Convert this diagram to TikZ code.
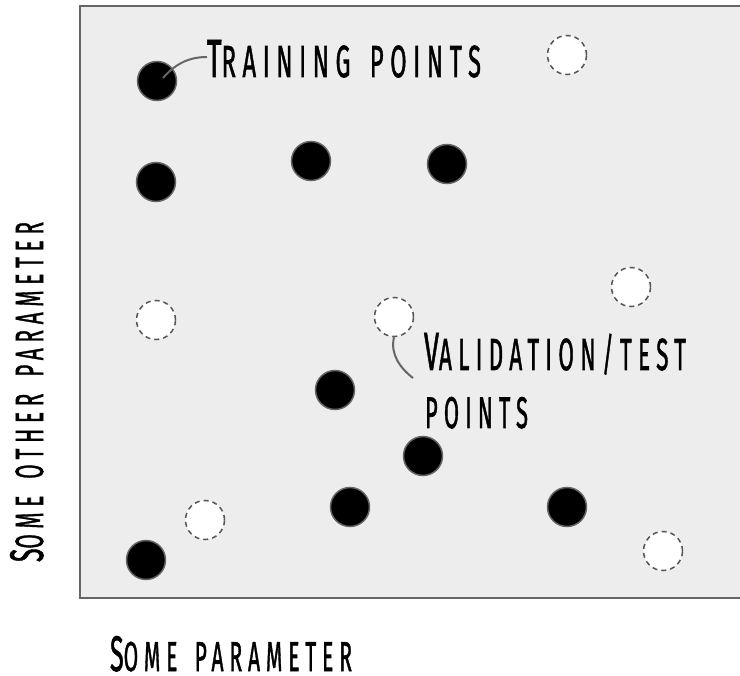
\documentclass[tikz,border=0pt]{standalone}
\usepackage{fontspec}
\usepackage{graphicx}
\usetikzlibrary{calc}
\newfontfamily\handfont[LetterSpace=28, WordSpace=1.5, FakeBold=1.6]{Fira Sans}
\definecolor{panel}{HTML}{EDEDED}
\definecolor{edge}{HTML}{666666}
\definecolor{dashedge}{HTML}{555555}
% small-caps style label squeezed into a given box: width, cap height, capital, rest
\newcommand{\capslabel}[4]{%
  \resizebox{#1}{#2}{\handfont\fontsize{40}{40}\selectfont #3\fontsize{33.5}{33.5}\selectfont #4}}
\tikzset{
  trainpt/.style={circle, minimum size=39pt, inner sep=0pt, fill=black, draw=edge, line width=1.5pt},
  testpt/.style={circle, minimum size=39pt, inner sep=0pt, fill=white, draw=dashedge, line width=1.5pt, dash pattern=on 5pt off 4pt},
  pointer/.style={draw=edge, line width=2pt},
  caption/.style={inner sep=0pt, outer sep=0pt}
}
\begin{document}
\begin{tikzpicture}[x=1pt, y=-1pt]
  \useasboundingbox (0,0) rectangle (740,676);
  \begin{scope}
    \clip (0,0) rectangle (740,676);
    \draw[fill=panel, draw=edge, line width=2pt] (80,6) rectangle (760,598);
  \end{scope}

  % training points
  \node[trainpt] (t1) at (157,81) {};
  \node[trainpt] (t2) at (156,182) {};
  \node[trainpt] (t3) at (311,161) {};
  \node[trainpt] (t4) at (447,164) {};
  \node[trainpt] (t5) at (335,390) {};
  \node[trainpt] (t6) at (423,456) {};
  \node[trainpt] (t7) at (350,507) {};
  \node[trainpt] (t8) at (567,507) {};
  \node[trainpt] (t9) at (146,560) {};

  % validation / test points
  \node[testpt] (v1) at (567,55) {};
  \node[testpt] (v2) at (156,320) {};
  \node[testpt] (v3) at (394,317) {};
  \node[testpt] (v4) at (631,287) {};
  \node[testpt] (v5) at (205,520) {};
  \node[testpt] (v6) at (663,551) {};

  % labels
  \node[caption, anchor=base west] (trainlbl) at (207,77) {\capslabel{274pt}{37pt}{T}{RAINING POINTS}};
  \node[caption, anchor=base west] (vallbl) at (424,370) {\capslabel{262pt}{37pt}{V}{ALIDATION/TEST}};
  \node[caption, anchor=base west] (vallbl2) at (425,428) {\capslabel{103pt}{31pt}{}{POINTS}};
  \node[caption, anchor=base west] (xlbl) at (110,671) {\capslabel{242pt}{35pt}{S}{OME PARAMETER}};
  \node[caption, anchor=base west, rotate=90] (ylbl) at (43,562) {\capslabel{340pt}{33pt}{S}{OME OTHER PARAMETER}};

  % pointers
  \draw[pointer] ($(t1.center)+(6,-3)$) .. controls (176,63) and (190,57) .. (trainlbl.west |- 0,57);
  \draw[pointer] (v3.south) .. controls (390,354) and (400,368) .. ($(vallbl.base west)+(-11,8)$);
\end{tikzpicture}
\end{document}
